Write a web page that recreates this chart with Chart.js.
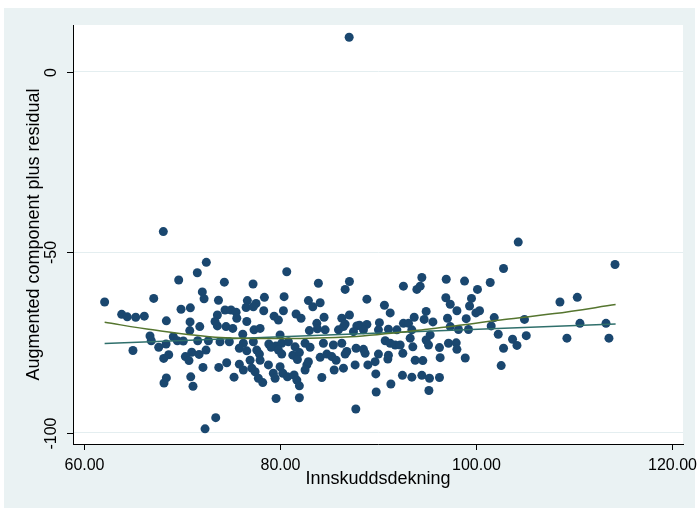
<!DOCTYPE html>
<html>
<head>
<meta charset="utf-8">
<script src="https://cdn.jsdelivr.net/npm/chart.js@4.4.0/dist/chart.umd.min.js"></script>
<style>
  html, body { margin: 0; padding: 0; background: #ffffff; }
  canvas { display: block; }
</style>
</head>
<body>
<canvas id="grafikk" width="699" height="509"></canvas>
<script>
// Data lest av figuren (x = innskuddsdekning, y = komponent + residual)
const innskudd = [
  68.07, 72.46, 71.54, 69.64, 72.05, 72.23, 62.08, 67.09, 73.7, 69.88,
  70.83, 63.82, 64.39, 65.25, 66.13, 68.38, 70.8, 71.79, 70.77, 73.59,
  73.59, 66.71, 66.84, 69.09, 69.5, 70.11, 68.35, 67.6, 71.58, 72.67,
  64.97, 70.97, 71.72, 72.43, 70.32, 70.69, 68.62, 68.11, 72.12, 73.73,
  68.38, 68.14, 70.87, 71.1, 73.42, 72.33,
  80.67, 74.3, 77.23, 83.9, 87.07, 86.63, 76.65, 78.39, 80.4, 82.88,
  84.08, 83.33, 77.54, 76.52, 77.26, 78.32, 74.37, 74.98, 75.5, 79.38,
  80.33, 81.62, 82.13, 79.82, 84.48, 83.74, 86.29, 87.07, 86.63, 76.59,
  75.57, 74.47, 75.16, 77.33, 77.95, 82.98, 83.8, 84.59, 85.95, 86.46,
  87.82, 76.18, 79.99, 74.81, 76.24, 77.26, 78.84, 79.55, 80.16, 80.84,
  81.52, 82.54, 83.05, 84.41, 85.43, 86.29, 86.8, 87.75, 75.83, 76.59,
  77.61, 77.88, 79.07, 79.82, 80.16, 81.29, 81.96, 81.76, 84.08, 84.76,
  85.27, 85.71, 86.63, 76.93, 77.95, 75.83, 74.54, 76.24, 77.1, 77.44,
  78.8, 79.99, 80.27, 79.3, 79.48, 80.74, 81.42, 81.7, 82.72, 82.88,
  82.54, 84.25, 85.51, 86.46, 87.65, 77.77, 78.22, 75.29, 81.96, 79.58,
  81.96, 87.72, 73.35, 73.86,
  94.46, 96.95, 98.82, 92.58, 93.95, 94.29, 100.14, 88.85, 96.91, 99.53,
  90.64, 91.23, 97.36, 98.04, 99.33, 99.98, 100.35, 94.9, 88.09, 88.85,
  90.13, 92.58, 93.1, 93.68, 94.7, 95.59, 97.08, 98.99, 97.36, 98.2,
  99.22, 87.48, 88.5, 90.03, 91.05, 91.91, 93.44, 95.31, 88.5, 88.67,
  90.72, 91.23, 91.74, 92.25, 93.27, 93.54, 94.9, 95.14, 96.26, 97.18,
  97.97, 98.04, 90.03, 91.05, 90.99, 92.52, 93.78, 94.56, 96.33, 98.89,
  88.95, 89.69, 89.76, 92.48, 93.44, 94.46, 95.24, 96.26, 91.3, 89.8,
  95.18, 87.04,
  104.3, 102.8, 114.18, 101.44, 108.56, 110.33, 101.85, 104.94, 101.54, 110.6,
  113.26, 102.26, 105.12, 103.72, 104.17, 102.8, 109.27, 113.56, 102.56
];
const residual = [
  -44.3, -52.8, -55.7, -57.7, -61.0, -62.9, -63.8, -62.8, -63.3, -65.8,
  -65.4, -67.2, -67.9, -68.0, -67.7, -69.0, -69.3, -70.6, -71.7, -67.4,
  -70.4, -73.2, -74.5, -73.4, -74.5, -74.6, -75.4, -76.3, -74.5, -74.5,
  -77.2, -77.7, -78.3, -77.1, -78.9, -80.0, -78.4, -79.4, -81.9, -81.9,
  -84.8, -86.2, -84.5, -87.1, -95.8, -98.9,
  -55.4, -58.3, -58.8, -58.6, -58.1, -60.3, -63.4, -62.5, -62.3, -63.4,
  -64.0, -65.1, -64.2, -65.3, -65.1, -66.2, -66.0, -66.0, -66.6, -67.7,
  -66.2, -67.1, -68.3, -68.8, -68.0, -69.7, -68.3, -67.4, -69.9, -69.2,
  -68.3, -70.6, -71.1, -71.5, -71.1, -71.7, -71.2, -71.5, -71.5, -70.6,
  -70.4, -72.7, -72.9, -74.8, -75.2, -74.8, -75.4, -76.0, -75.2, -74.8,
  -76.2, -75.2, -76.3, -75.2, -75.7, -75.2, -77.5, -76.6, -76.6, -77.3,
  -77.1, -78.2, -76.3, -77.1, -78.2, -78.5, -77.8, -79.7, -79.1, -78.2,
  -78.9, -79.9, -78.2, -79.9, -79.9, -81.0, -80.6, -82.6, -82.1, -83.1,
  -81.2, -81.7, -83.5, -83.5, -84.9, -84.5, -84.0, -85.4, -81.2, -80.3,
  -82.6, -84.7, -82.6, -82.1, -81.2, -84.9, -86.1, -84.6, -87.0, -90.5,
  -90.3, -93.4, -69.2, -74.8,
  -57.0, -57.5, -58.0, -59.4, -60.3, -59.4, -60.3, -63.0, -62.6, -62.8,
  -64.7, -66.8, -64.4, -66.2, -64.9, -66.8, -66.2, -66.4, -70.2, -70.0,
  -69.5, -69.7, -69.7, -68.0, -68.6, -69.3, -68.3, -68.4, -70.6, -71.4,
  -71.4, -72.0, -71.5, -71.5, -71.3, -71.5, -71.5, -72.9, -76.9, -78.0,
  -74.5, -75.2, -75.7, -75.7, -73.8, -76.2, -74.3, -75.7, -76.4, -75.2,
  -75.1, -76.9, -78.2, -78.5, -79.6, -78.0, -79.9, -80.0, -79.2, -79.3,
  -81.2, -80.3, -83.7, -84.1, -84.6, -84.1, -84.9, -84.7, -86.5, -88.7,
  -88.3, 9.5,
  -47.2, -54.5, -53.4, -58.4, -63.8, -62.5, -68.1, -68.6, -70.4, -69.7,
  -69.7, -72.7, -73.1, -74.1, -75.8, -76.6, -73.8, -73.8, -81.4
];

// Rett linje (lineær tilpasning)
const linjeX = [62.08, 114.24];
const linjeY = [-75.3, -69.9];

// Glattet kurve
const kurveX = [62.08, 67, 73.9, 80, 87.2, 95, 102.5, 108, 114.24];
const kurveY = [-69.4, -71.5, -73.6, -73.9, -73.4, -71.3, -68.8, -67.0, -64.5];

const xTicks = [60, 80, 100, 120];
const yTicks = [-100, -50, 0];
const xTittel = 'Innskuddsdekning';
const yTittel = 'Augmented component plus residual';

function lagPunkter(xs, ys) {
    return xs.map((x, i) => ({ x: x, y: ys[i] }));
}

// Bakgrunn: lys blågrå ramme og hvitt plottområde
const bakgrunn = {
    id: 'bakgrunn',
    beforeDraw(chart) {
        const ctx = chart.ctx;
        const a = chart.chartArea;
        ctx.save();
        ctx.fillStyle = '#ffffff';
        ctx.fillRect(0, 0, chart.width, chart.height);
        ctx.fillStyle = '#eaf2f3';
        ctx.fillRect(4, 8, 691, 500);
        ctx.fillStyle = '#ffffff';
        ctx.fillRect(a.left, a.top, a.right - a.left, a.bottom - a.top);
        ctx.restore();
    }
};

// Tikkmerker, etiketter og aksetitler i Stata-stil
const akser = {
    id: 'akser',
    afterDraw(chart) {
        const ctx = chart.ctx;
        const a = chart.chartArea;
        const sx = chart.scales.x;
        const sy = chart.scales.y;
        ctx.save();
        ctx.strokeStyle = '#000000';
        ctx.fillStyle = '#000000';
        ctx.lineWidth = 1;
        ctx.font = '16px "Liberation Sans", Arial, sans-serif';
        ctx.textAlign = 'center';
        ctx.textBaseline = 'alphabetic';

        xTicks.forEach(v => {
            const px = Math.round(sx.getPixelForValue(v)) + 0.5;
            ctx.beginPath();
            ctx.moveTo(px, a.bottom);
            ctx.lineTo(px, a.bottom + 6);
            ctx.stroke();
            ctx.fillText(v.toFixed(2), px, 470);
        });

        yTicks.forEach(v => {
            const py = Math.round(sy.getPixelForValue(v)) + 0.5;
            ctx.beginPath();
            ctx.moveTo(a.left - 6, py);
            ctx.lineTo(a.left, py);
            ctx.stroke();
            ctx.save();
            ctx.translate(a.left - 17, py);
            ctx.rotate(-Math.PI / 2);
            ctx.fillText(String(v), 0, 0);
            ctx.restore();
        });

        ctx.font = '18px "Liberation Sans", Arial, sans-serif';
        ctx.fillText(xTittel, (a.left + a.right) / 2, 484);
        ctx.save();
        ctx.translate(38.5, (a.top + a.bottom) / 2);
        ctx.rotate(-Math.PI / 2);
        ctx.fillText(yTittel, 0, 0);
        ctx.restore();
        ctx.restore();
    }
};

function tegnGrafikk() {
    const ctx = document.getElementById('grafikk').getContext('2d');
    new Chart(ctx, {
        type: 'scatter',
        data: {
            datasets: [
                {
                    data: lagPunkter(kurveX, kurveY),
                    showLine: true,
                    borderColor: '#55752f',
                    borderWidth: 1.5,
                    pointRadius: 0,
                    cubicInterpolationMode: 'monotone',
                    fill: false
                },
                {
                    data: lagPunkter(linjeX, linjeY),
                    showLine: true,
                    borderColor: '#2f6f6b',
                    borderWidth: 1.5,
                    pointRadius: 0,
                    fill: false
                },
                {
                    data: lagPunkter(innskudd, residual),
                    pointRadius: 4.5,
                    pointHoverRadius: 4.5,
                    pointBackgroundColor: '#1a476f',
                    pointBorderWidth: 0
                }
            ]
        },
        options: {
            responsive: false,
            animation: false,
            devicePixelRatio: 1,
            layout: { padding: { top: 25, right: 16, left: 0, bottom: 0 } },
            plugins: {
                legend: { display: false },
                tooltip: { enabled: false }
            },
            scales: {
                x: {
                    type: 'linear',
                    min: 58.85,
                    max: 121.12,
                    afterBuildTicks: s => { s.ticks = xTicks.map(v => ({ value: v })); },
                    afterFit: s => { s.height = 65; },
                    ticks: { display: false },
                    grid: { display: false },
                    border: { display: true, color: '#000000', width: 1 }
                },
                y: {
                    type: 'linear',
                    min: -103.1,
                    max: 12.9,
                    afterBuildTicks: s => { s.ticks = yTicks.map(v => ({ value: v })); },
                    afterFit: s => { s.width = 73; },
                    ticks: { display: false },
                    grid: { color: '#e4eef0', lineWidth: 1, drawTicks: false },
                    border: { display: true, color: '#000000', width: 1 }
                }
            }
        },
        plugins: [bakgrunn, akser]
    });
}

window.onload = tegnGrafikk;
</script>
</body>
</html>
